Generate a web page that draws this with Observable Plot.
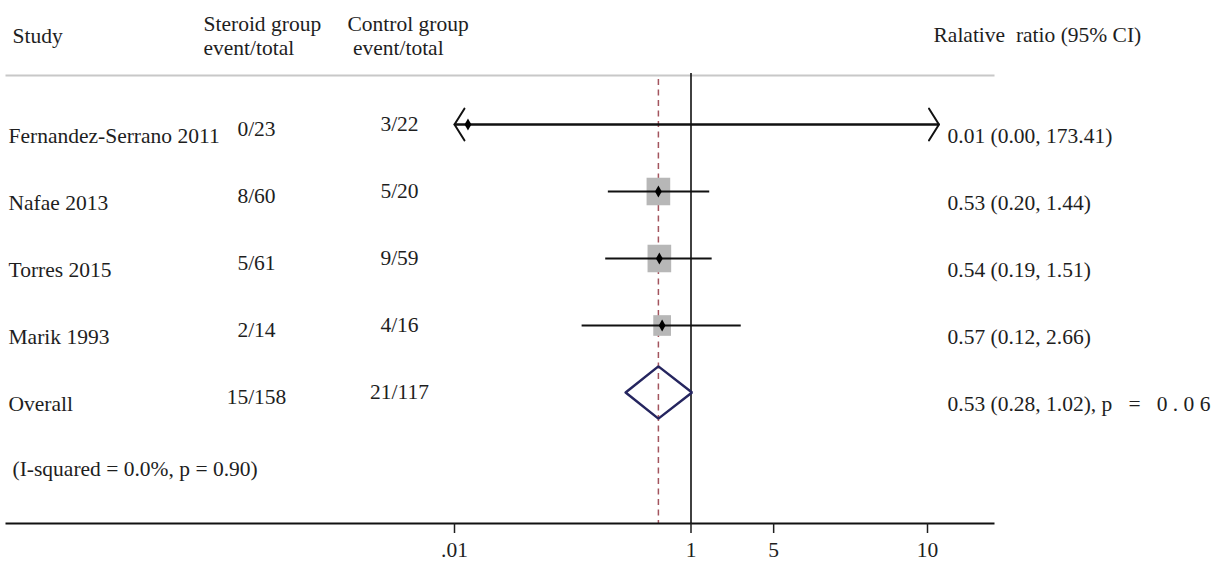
<!DOCTYPE html>
<html><head><meta charset="utf-8">
<script src="https://cdn.jsdelivr.net/npm/d3@7"></script>
<script src="https://cdn.jsdelivr.net/npm/@observablehq/plot@0.6"></script>
<style>
html,body{margin:0;padding:0;background:#fff;}
#chart svg text{white-space:pre;}
</style></head><body><div id="chart"></div>
<script>
// ---- data ----
const studies = ["Fernandez-Serrano 2011", "Nafae 2013", "Torres 2015", "Marik 1993"];
const steroidEvents = ["0/23", "8/60", "5/61", "2/14"];
const controlEvents = ["3/22", "5/20", "9/59", "4/16"];
const estimates = [0.013, 0.53, 0.54, 0.57];
const lowerCI = [0.00, 0.20, 0.19, 0.12];
const upperCI = [173.41, 1.44, 1.51, 2.66];
const weights = [1.1, 38.6, 38.6, 21.7];
const overallLabel = "Overall";
const overallSteroid = "15/158";
const overallControl = "21/117";
const overallEst = 0.53, overallLo = 0.28, overallHi = 1.02, overallP = 0.06;
const iSquared = 0.0, hetP = 0.90;
const tickValues = [0.01, 1, 5, 100];
const tickLabels = [".01", "1", "5", "10"];
const xMin = 0.01, xMax = 125;

// ---- derived ----
const fmt = v => v.toFixed(2);
const rows = studies.map((s, i) => ({
  i, study: s, steroid: steroidEvents[i], control: controlEvents[i],
  est: estimates[i], lo: lowerCI[i], hi: upperCI[i], w: weights[i],
  label: `${fmt(estimates[i])} (${fmt(lowerCI[i])}, ${fmt(upperCI[i])})`
}));
const oRow = studies.length;
const overall = {
  i: oRow, study: overallLabel, steroid: overallSteroid, control: overallControl,
  label: `${fmt(overallEst)} (${fmt(overallLo)}, ${fmt(overallHi)}), p   =   ${fmt(overallP).split("").join(" ")}`
};
const textRows = [...rows, overall];
const dh = 0.39;
const diamond = [
  {x: overallLo, y: oRow}, {x: overallEst, y: oRow - dh}, {x: overallHi, y: oRow},
  {x: overallEst, y: oRow + dh}, {x: overallLo, y: oRow}
];
const hetText = `(I-squared = ${iSquared.toFixed(1)}%, p = ${hetP.toFixed(2)})`;

const squareSym = {draw(ctx, size) {
  const s = Math.sqrt(size); const w = s * 0.97 / 2, h = s * 1.13 / 2;
  ctx.moveTo(-w, -h); ctx.lineTo(w, -h); ctx.lineTo(w, h); ctx.lineTo(-w, h); ctx.closePath();
}};

const FS = 21.5;
const TXT = "#1e1e1e";
const ML = 6;

const chart = Plot.plot({
  width: 1228, height: 564,
  marginLeft: ML, marginRight: 235, marginTop: 73, marginBottom: 41,
  style: {fontFamily: "'Liberation Serif', 'Times New Roman', serif", fontSize: FS + "px", background: "#fff", color: TXT},
  x: {type: "log", domain: [0.01, 1], range: [454, 690.5]},
  y: {type: "linear", domain: [0, 5], range: [124, 459], axis: null},
  r: {type: "sqrt", domain: [0, 40], range: [0, 14]},
  marks: [
    Plot.frame({anchor: "top", stroke: "#c8c8c8", strokeWidth: 2, dy: 2}),
    Plot.ruleX([overallEst], {stroke: "#a3545e", strokeWidth: 1.5, strokeDasharray: "6,4.5", insetTop: 6}),
    Plot.ruleX([1], {stroke: "#111", strokeWidth: 1.6}),
    Plot.frame({anchor: "bottom", stroke: "#111", strokeWidth: 2}),
    Plot.axisX({ticks: tickValues, tickFormat: d => tickLabels[tickValues.indexOf(d)],
      tickSize: 10, tickPadding: 8, strokeWidth: 1.5, fontSize: FS, fill: TXT}),
    // weight squares
    Plot.dot(rows, {x: "est", y: "i", r: "w", symbol: squareSym, fill: "#b7b7b7"}),
    // CI lines inside range
    Plot.ruleY(rows.filter(d => d.lo >= xMin && d.hi <= xMax), {y: "i", x1: "lo", x2: "hi", stroke: "#111", strokeWidth: 2}),
    // clipped CIs with arrows
    Plot.arrow(rows.filter(d => d.lo < xMin), {x1: d => Math.min(d.hi, xMax), x2: () => xMin, y1: "i", y2: "i",
      stroke: "#111", strokeWidth: 2, headAngle: 116, headLength: 14}),
    Plot.arrow(rows.filter(d => d.hi > xMax), {x1: d => Math.max(d.lo, xMin), x2: () => xMax, y1: "i", y2: "i",
      stroke: "#111", strokeWidth: 2, headAngle: 116, headLength: 14}),
    // point estimates
    Plot.dot(rows, {x: "est", y: "i", symbol: "diamond", r: 3.6, fill: "#000"}),
    // overall diamond
    Plot.line(diamond, {x: "x", y: "y", stroke: "#25255f", strokeWidth: 2.5, strokeLinejoin: "miter"}),
    // text columns
    Plot.text(textRows, {y: "i", text: "study", frameAnchor: "left", dx: 2, dy: 12, textAnchor: "start", fill: TXT}),
    Plot.text(textRows, {y: "i", text: "steroid", frameAnchor: "left", dx: 256 - ML, dy: 5, textAnchor: "middle", fill: TXT}),
    Plot.text(textRows, {y: "i", text: "control", frameAnchor: "left", dx: 399 - ML, dy: 0, textAnchor: "middle", fill: TXT}),
    Plot.text(textRows, {y: "i", text: "label", frameAnchor: "left", dx: 947 - ML, dy: 12, textAnchor: "start", fill: TXT}),
    Plot.text([hetText], {y: () => oRow + 1, text: d => d, frameAnchor: "left", dx: 6, dy: 10, textAnchor: "start", fill: TXT}),
    // headers
    Plot.text(["Study"], {frameAnchor: "top-left", text: d => d, dx: 6, dy: -37, lineAnchor: "middle", textAnchor: "start", fill: TXT}),
    Plot.text(["Steroid group\nevent/total"], {frameAnchor: "top-left", text: d => d, dx: 197, dy: -38.5, lineAnchor: "middle", textAnchor: "start", lineHeight: 1.15, fill: TXT}),
    Plot.text(["Control group\n event/total"], {frameAnchor: "top-left", text: d => d, dx: 341, dy: -38.5, lineAnchor: "middle", textAnchor: "start", lineHeight: 1.15, fill: TXT}),
    Plot.text(["Ralative  ratio (95% CI)"], {frameAnchor: "top-left", text: d => d, dx: 927, dy: -38, lineAnchor: "middle", textAnchor: "start", fill: TXT})
  ]
});
document.getElementById("chart").appendChild(chart);
</script>
</body></html>
